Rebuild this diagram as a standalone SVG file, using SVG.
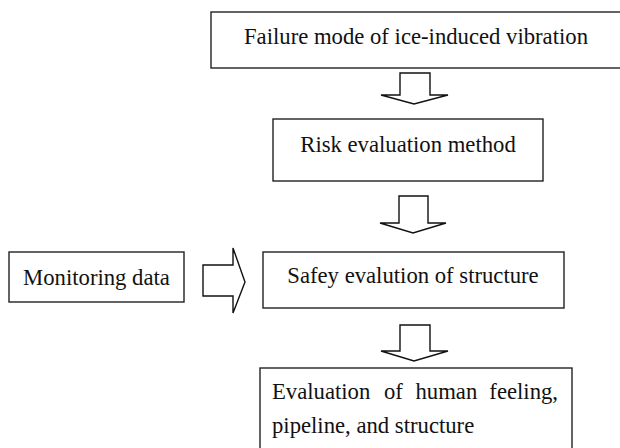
<svg xmlns="http://www.w3.org/2000/svg" width="620" height="448" viewBox="0 0 620 448">
<style>
.box{fill:#fff;stroke:#222;stroke-width:1.4}
.arr{fill:#fff;stroke:#111;stroke-width:1.4;stroke-linejoin:miter}
.t{font-family:"Liberation Serif","Times New Roman",serif;font-size:22.7px;fill:#111}
.c{text-anchor:middle}
</style>
<rect width="620" height="448" fill="#fff"/>
<g id="connectors">
<polygon class="arr" points="400,73 430,73 430,95 448,95 414,104 381,95 400,95"/>
<polygon class="arr" points="399,196 428,196 428,223 446,223 413,233 380,223 399,223"/>
<polygon class="arr" points="400,325 430,325 430,351 448,351 414,361 381,351 400,351"/>
<polygon class="arr" points="203,265 233,265 233,248 245,282 233,313 233,296 203,296"/>
</g>
<g id="node-failure">
<rect class="box" x="211" y="12" width="420" height="56"/>
<text class="t" x="244" y="44">Failure mode of ice-induced vibration</text>
</g>
<g id="node-risk">
<rect class="box" x="273" y="119" width="270" height="62"/>
<text class="t c" x="408" y="152">Risk evaluation method</text>
</g>
<g id="node-monitoring">
<rect class="box" x="9" y="252" width="175" height="50"/>
<text class="t c" x="96.5" y="285">Monitoring data</text>
</g>
<g id="node-safety">
<rect class="box" x="263" y="252" width="301" height="56"/>
<text class="t c" x="413" y="283">Safey evalution of structure</text>
</g>
<g id="node-evaluation">
<rect class="box" x="260" y="368" width="312" height="90"/>
<text class="t" y="399"><tspan x="272">Evaluation</tspan><tspan x="384">of</tspan><tspan x="415.5">human</tspan><tspan x="558" text-anchor="end">feeling,</tspan></text>
<text class="t" x="272" y="433">pipeline, and structure</text>
</g>
</svg>
